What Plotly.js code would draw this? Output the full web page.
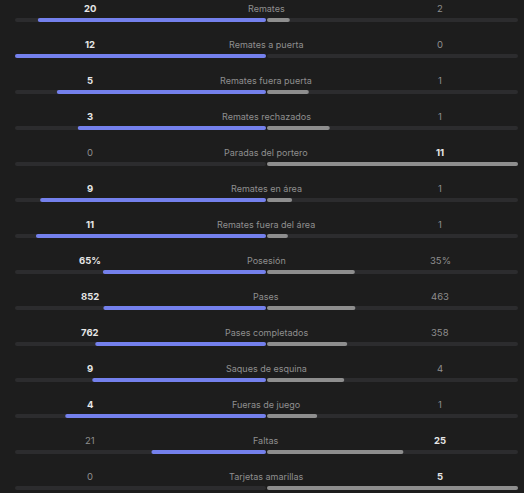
<!DOCTYPE html>
<html><head><meta charset="utf-8">
<script src="https://cdn.plot.ly/plotly-3.0.1.min.js"></script>
<style>html,body{margin:0;padding:0;background:#1d1d1d;}</style>
</head><body><div id="chart" style="width:524px;height:493px;"></div>
<script>
const categories = ["Remates","Remates a puerta","Remates fuera puerta","Remates rechazados","Paradas del portero","Remates en área","Remates fuera del área","Posesión","Pases","Pases completados","Saques de esquina","Fueras de juego","Faltas","Tarjetas amarillas"];
const homeValues = [20,12,5,3,0,9,11,65,852,762,9,4,21,0];
const awayValues = [2,0,1,1,11,1,1,35,463,358,4,1,25,5];
const homeLabels = ["20","12","5","3","0","9","11","65%","852","762","9","4","21","0"];
const awayLabels = ["2","0","1","1","11","1","1","35%","463","358","4","1","25","5"];

const rows = categories.map((_, i) => i);
const homeFrac = homeValues.map((v, i) => { const t = v + awayValues[i]; return t ? -v / t : 0; });
const awayFrac = awayValues.map((v, i) => { const t = homeValues[i] + v; return t ? v / t : 0; });

const W = 524, H = 493, left = 15, right = 518, rowH = 36, firstBar = 20;
const bw = 4 / rowH;
const track = '#2c2c2e', blue = '#7480ec', grey = '#8e8e8e';

const traces = [
  {type:'bar', orientation:'h', y:rows, x:rows.map(()=>-1), base:0, width:bw, marker:{color:track}, hoverinfo:'skip'},
  {type:'bar', orientation:'h', y:rows, x:rows.map(()=>1), base:0.004, width:bw, marker:{color:track}, hoverinfo:'skip'},
  {type:'bar', orientation:'h', y:rows, x:homeFrac, base:0, width:bw, marker:{color:blue}, hoverinfo:'skip'},
  {type:'bar', orientation:'h', y:rows, x:awayFrac, base:0.004, width:bw, marker:{color:grey}, hoverinfo:'skip'}
];

const font = 'Inter, "Noto Sans", sans-serif';
const ann = [];
const xL = (90 - (left+right)/2) / ((right-left)/2);
const xR = (441 - (left+right)/2) / ((right-left)/2);
rows.forEach(i => {
  const ty = i - 11.5 / rowH;
  ann.push({x:0, y:ty, text:categories[i], showarrow:false, xanchor:'center', yanchor:'middle', font:{family:font, size:9, color:'#8f8f8f'}});
  const hb = homeValues[i] > awayValues[i], ab = awayValues[i] > homeValues[i];
  ann.push({x:xL, y:ty, text: hb ? '<b>'+homeLabels[i]+'</b>' : homeLabels[i], showarrow:false, xanchor:'center', yanchor:'middle', font:{family:font, size:9.5, color: hb ? '#e6e6e6' : '#8f8f8f'}});
  ann.push({x:xR, y:ty, text: ab ? '<b>'+awayLabels[i]+'</b>' : awayLabels[i], showarrow:false, xanchor:'center', yanchor:'middle', font:{family:font, size:9.5, color: ab ? '#e6e6e6' : '#8f8f8f'}});
});

const layout = {
  width:W, height:H, margin:{l:0,r:0,t:0,b:0},
  paper_bgcolor:'#1d1d1d', plot_bgcolor:'#1d1d1d',
  barmode:'overlay', showlegend:false, barcornerradius:2,
  xaxis:{domain:[left/W, right/W], range:[-1, 1.004], visible:false, fixedrange:true},
  yaxis:{range:[(H-firstBar)/rowH, -firstBar/rowH], visible:false, fixedrange:true},
  annotations:ann
};
Plotly.newPlot('chart', traces, layout, {displayModeBar:false, staticPlot:true});
</script></body></html>
